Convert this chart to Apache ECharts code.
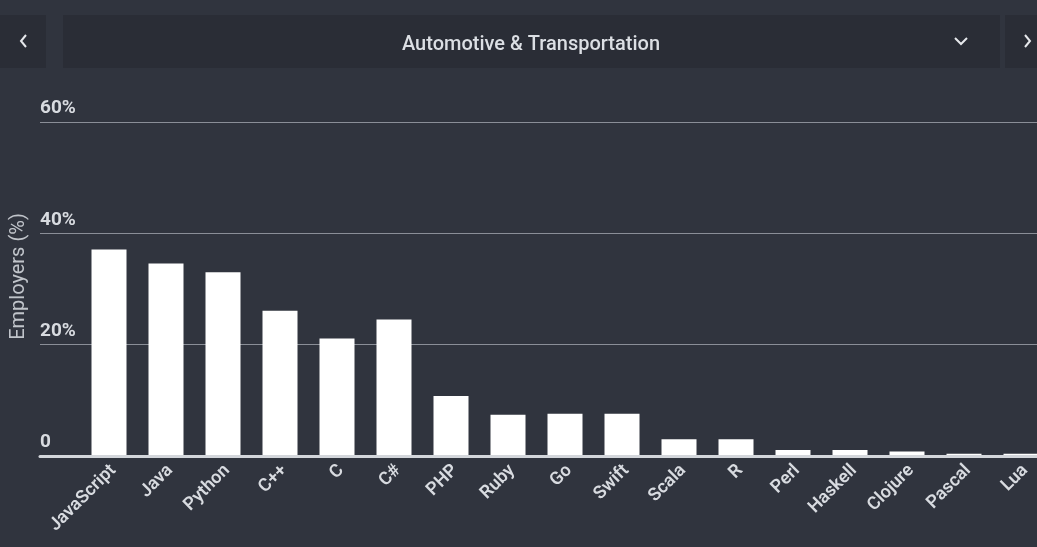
<!DOCTYPE html>
<html>
<head>
<meta charset="utf-8">
<style>
html,body{margin:0;padding:0;background:#30343e;overflow:hidden;}
#c{width:1056px;height:547px;}
</style>
<script src="https://cdn.jsdelivr.net/npm/echarts@6/dist/echarts.min.js"></script>
</head>
<body>
<div id="c"></div>
<script>
var categories = ["JavaScript","Java","Python","C++","C","C#","PHP","Ruby","Go","Swift","Scala","R","Perl","Haskell","Clojure","Pascal","Lua"];
var employers = [37.1, 34.6, 33.0, 26.1, 21.1, 24.5, 10.8, 7.4, 7.6, 7.6, 3.0, 3.0, 1.1, 1.1, 0.8, 0.4, 0.4];
var yTicks = [0, 20, 40, 60];
var titleText = "Automotive & Transportation";
var yName = "Employers (%)";

var chart = echarts.init(document.getElementById('c'), null, {renderer:'canvas'});
var font = 'Roboto, "Noto Sans", sans-serif';
var option = {
  backgroundColor: '#30343e',
  animation: false,
  title: {
    text: titleText, left: 526, top: 40, textAlign: 'center', textVerticalAlign: 'middle',
    textStyle: {color:'#dcdfe4', fontSize:20, fontWeight:500, fontFamily:font}
  },
  graphic: [
    {type:'rect', shape:{x:0,y:15,width:46,height:53}, style:{fill:'#2a2d36'}, z:-1},
    {type:'rect', shape:{x:63,y:15,width:937,height:53}, style:{fill:'#2a2d36'}, z:-1},
    {type:'rect', shape:{x:1005,y:15,width:50,height:53}, style:{fill:'#2a2d36'}, z:-1},
    {type:'polyline', shape:{points:[[26,35],[21,41],[26,47]]}, style:{stroke:'#e6e8ec', lineWidth:2, fill:null}},
    {type:'polyline', shape:{points:[[1025,35],[1030,41],[1025,47]]}, style:{stroke:'#e6e8ec', lineWidth:2, fill:null}},
    {type:'polyline', shape:{points:[[955,38],[961,44],[967,38]]}, style:{stroke:'#e6e8ec', lineWidth:2, fill:null}}
  ],
  grid: [
    {left:40, right:0, top:122, bottom:91, containLabel:false},
    {left:80.5, width:969, top:122, bottom:91, containLabel:false}
  ],
  xAxis: [
    {gridIndex:0, type:'value', min:0, max:1, axisLabel:{show:false}, axisTick:{show:false}, splitLine:{show:false},
     axisLine:{show:true, lineStyle:{color:'#d3d6db', width:3}}, z:5},
    {gridIndex:1, type:'category', data:categories, axisLine:{show:false}, axisTick:{show:false},
     axisLabel:{rotate:45, interval:0, margin:16, color:'#d8dbe0', fontSize:18, fontWeight:600, fontFamily:font, padding:[0,-6,0,0]}}
  ],
  yAxis: [
    {gridIndex:0, type:'value', min:yTicks[0], max:yTicks[yTicks.length-1], interval:20,
     name:yName, nameLocation:'middle', nameGap:11, nameRotate:90,
     nameTextStyle:{color:'#c0c4ca', fontSize:20, fontFamily:font, padding:[0,0,0,25]},
     axisLine:{show:false}, axisTick:{show:false},
     axisLabel:{inside:true, verticalAlign:'bottom', margin:0, padding:[0,0,4,0], color:'#d8dbe0', fontSize:19, fontWeight:'bold', fontFamily:font,
       formatter:function(v){return v===0?'0':v+'%';}},
     splitLine:{show:true, lineStyle:{color:'#8a8e97', width:1}}},
    {gridIndex:1, type:'value', min:yTicks[0], max:yTicks[yTicks.length-1], interval:20, show:false, splitLine:{show:false}}
  ],
  series: [
    {type:'bar', xAxisIndex:1, yAxisIndex:1, data:employers, barWidth:35, itemStyle:{color:'#ffffff'}, z:2}
  ]
};
chart.setOption(option);
</script>
</body>
</html>
